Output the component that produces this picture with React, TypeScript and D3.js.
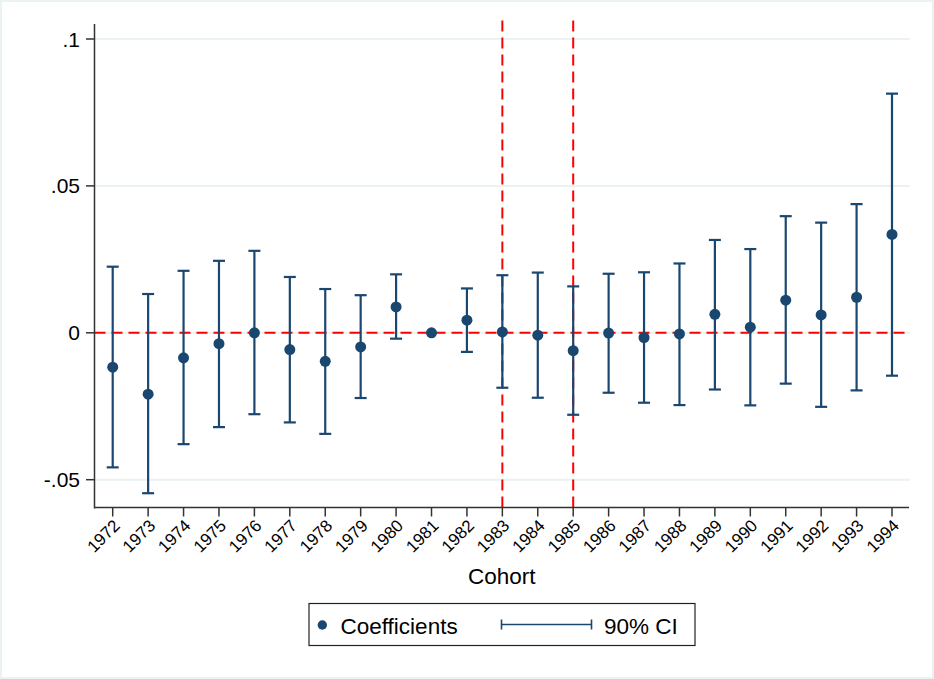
import * as React from "react";
import * as d3 from "d3";

const cohorts = [1972, 1973, 1974, 1975, 1976, 1977, 1978, 1979, 1980, 1981, 1982, 1983,
  1984, 1985, 1986, 1987, 1988, 1989, 1990, 1991, 1992, 1993, 1994];
const coef = [-0.0117, -0.0209, -0.0085, -0.0037, 0.0, -0.0057, -0.0097, -0.0048, 0.0088, 0.0,
  0.0043, 0.0003, -0.0008, -0.0061, -0.0001, -0.0016, -0.0004, 0.0063, 0.0019, 0.0111, 0.0061,
  0.0121, 0.0335];
const ciHigh = [0.0225, 0.0132, 0.0211, 0.0245, 0.0279, 0.019, 0.0149, 0.0128, 0.0199, null,
  0.0151, 0.0196, 0.0205, 0.0158, 0.0201, 0.0206, 0.0236, 0.0316, 0.0285, 0.0397, 0.0375,
  0.0438, 0.0814];
const ciLow = [-0.0458, -0.0546, -0.0379, -0.0321, -0.0277, -0.0305, -0.0344, -0.0222, -0.002,
  null, -0.0065, -0.0187, -0.0221, -0.0279, -0.0204, -0.0238, -0.0246, -0.0193, -0.0247,
  -0.0173, -0.0252, -0.0196, -0.0146];
const yTicks = [0.1, 0.05, 0, -0.05];
const yTickLabels = [".1", ".05", "0", "-.05"];
const refCohorts = [1983, 1985];

const W = 934;
const H = 679;
const FONT = "'Liberation Sans', Arial, Helvetica, sans-serif";
const NAVY = "#1a476f";
const GRID = "#eaf2f3";
const RED = "#ff0000";

const PLOT = { left: 94.5, right: 909, top: 24, bottom: 507.5 };

export default function App() {
  const x = d3.scaleLinear().domain([1971.486, 1994.48]).range([PLOT.left, PLOT.right]);
  const y = d3.scaleLinear().domain([-0.05, 0.1]).range([479.7, 39]);

  return (
    <svg
      width={W}
      height={H}
      style={{ position: "absolute", left: 0, top: 0, fontFamily: FONT }}
    >
      <rect x={0} y={0} width={W} height={H} fill={GRID} />
      <rect x={2} y={2} width={930} height={675} fill="#ffffff" />

      {/* gridlines */}
      {yTicks.map((t) => (
        <line
          key={`g-${t}`}
          x1={PLOT.left}
          x2={PLOT.right + 1}
          y1={y(t)}
          y2={y(t)}
          stroke={GRID}
          strokeWidth={2}
        />
      ))}

      {/* zero line and reference cohorts */}
      <line
        x1={PLOT.left}
        x2={PLOT.right}
        y1={y(0)}
        y2={y(0)}
        stroke={RED}
        strokeWidth={2}
        strokeDasharray="11 6"
      />
      {refCohorts.map((c) => (
        <line
          key={`r-${c}`}
          x1={x(c)}
          x2={x(c)}
          y1={PLOT.bottom}
          y2={PLOT.top - 6}
          stroke={RED}
          strokeWidth={2}
          strokeDasharray="11 6"
        />
      ))}

      {/* CI bars */}
      {cohorts.map((c, i) => {
        const hi = ciHigh[i];
        const lo = ciLow[i];
        if (hi == null || lo == null) return null;
        const cx = x(c);
        return (
          <g key={`ci-${c}`} stroke={NAVY} strokeWidth={2.2}>
            <line x1={cx} x2={cx} y1={y(hi)} y2={y(lo)} />
            <line x1={cx - 6} x2={cx + 6} y1={y(hi)} y2={y(hi)} />
            <line x1={cx - 6} x2={cx + 6} y1={y(lo)} y2={y(lo)} />
          </g>
        );
      })}

      {/* coefficients */}
      {cohorts.map((c, i) => (
        <circle key={`p-${c}`} cx={x(c)} cy={y(coef[i])} r={5.5} fill={NAVY} />
      ))}

      {/* axes */}
      <line x1={PLOT.left} x2={PLOT.left} y1={PLOT.top} y2={PLOT.bottom + 1} stroke="#333" strokeWidth={1.5} />
      <line x1={PLOT.left} x2={PLOT.right} y1={PLOT.bottom} y2={PLOT.bottom} stroke="#333" strokeWidth={1.5} />

      {yTicks.map((t, i) => (
        <g key={`yt-${t}`}>
          <line x1={86} x2={PLOT.left} y1={y(t)} y2={y(t)} stroke="#333" strokeWidth={1.5} />
          <text x={80} y={y(t)} dy="0.36em" textAnchor="end" fontSize={21} fill="#000">
            {yTickLabels[i]}
          </text>
        </g>
      ))}

      {cohorts.map((c) => {
        const cx = x(c);
        return (
          <g key={`xt-${c}`}>
            <line x1={cx} x2={cx} y1={PLOT.bottom} y2={PLOT.bottom + 9} stroke="#333" strokeWidth={1.5} />
            <text
              transform={`translate(${cx + 4},${PLOT.bottom + 15}) rotate(-45)`}
              textAnchor="end"
              dy="0.35em"
              fontSize={17}
              fill="#000"
            >
              {c}
            </text>
          </g>
        );
      })}

      <text x={(PLOT.left + PLOT.right) / 2} y={584} textAnchor="middle" fontSize={22.5} fill="#000">
        Cohort
      </text>

      {/* legend */}
      <rect x={309} y={603.5} width={386} height={42} fill="#fff" stroke="#222" strokeWidth={1.2} />
      <circle cx={322.3} cy={625} r={4.7} fill={NAVY} />
      <text x={340.5} y={633.5} fontSize={22.5} fill="#000">Coefficients</text>
      <g stroke={NAVY} strokeWidth={1.6}>
        <line x1={501.5} x2={591.5} y1={624.5} y2={624.5} />
        <line x1={501.5} x2={501.5} y1={619.5} y2={629.5} />
        <line x1={591.5} x2={591.5} y1={619.5} y2={629.5} />
      </g>
      <text x={604} y={633.5} fontSize={22.5} fill="#000">90% CI</text>
    </svg>
  );
}
